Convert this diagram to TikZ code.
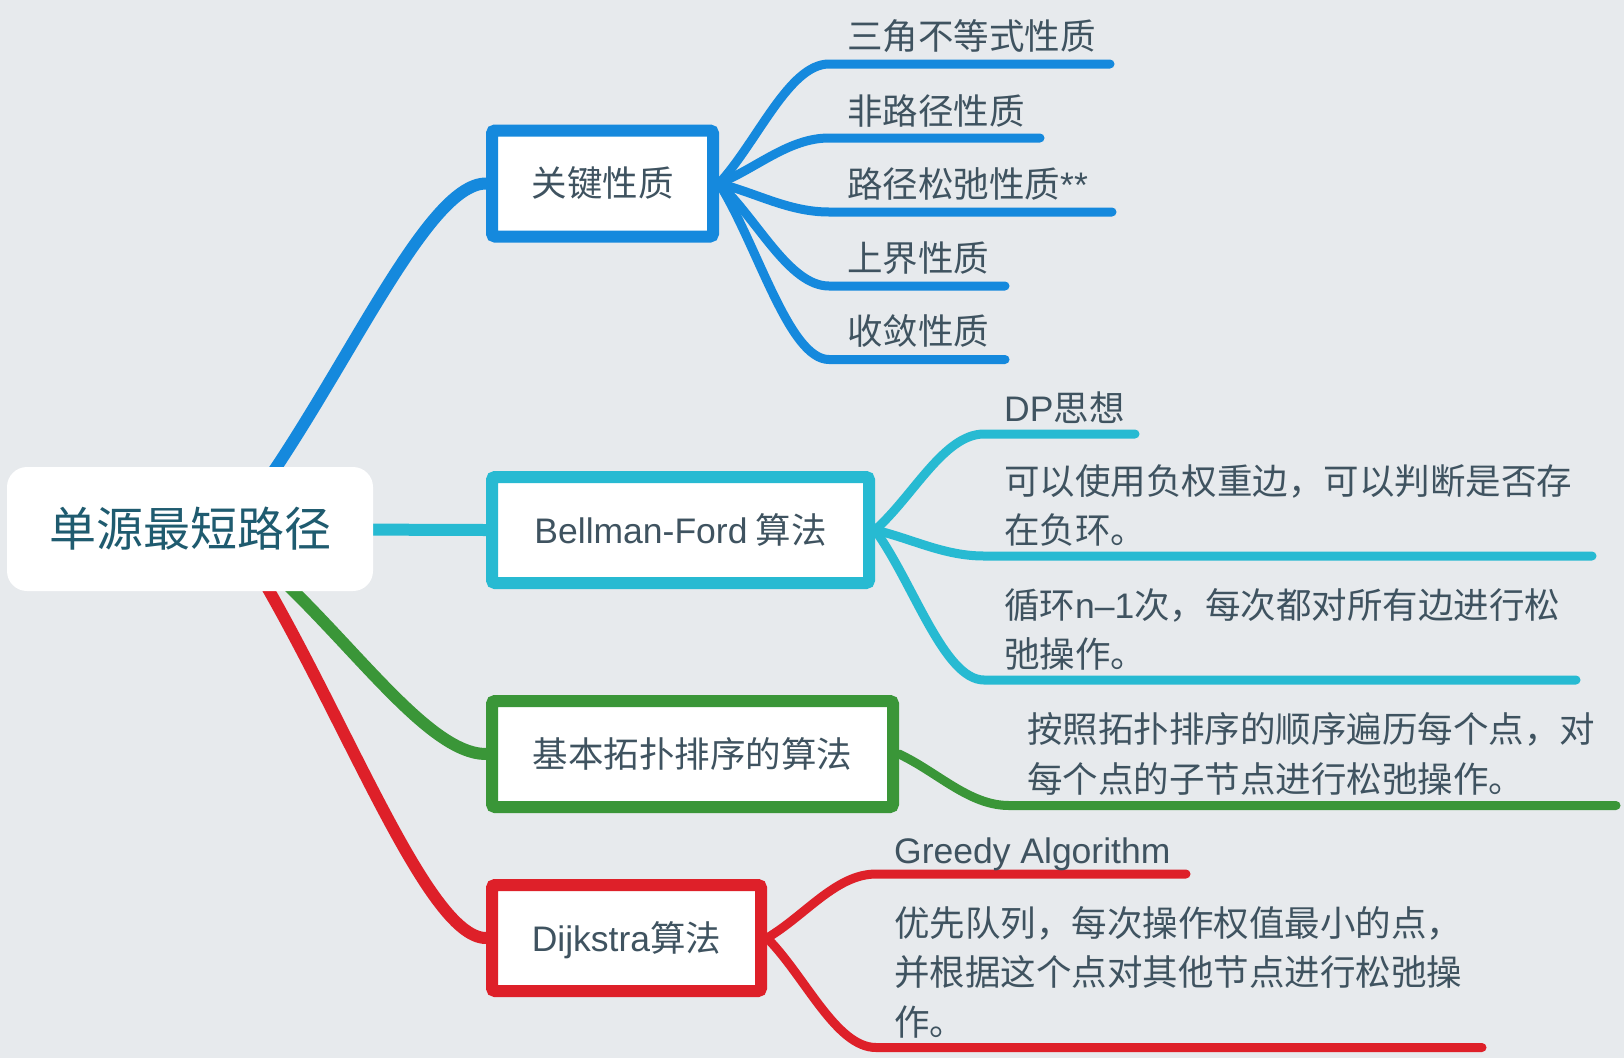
\documentclass[tikz,border=0pt]{standalone}
\usepackage{fontspec}
\setmainfont{Noto Sans CJK SC}
\newfontfamily\lat{Liberation Sans}
\usetikzlibrary{calc}
\definecolor{bgc}{HTML}{E7EAED}
\definecolor{cblue}{HTML}{1589DD}
\definecolor{ccyan}{HTML}{27BAD2}
\definecolor{cgreen}{HTML}{3A9638}
\definecolor{cred}{HTML}{DE2029}
\definecolor{ctext}{HTML}{3F5360}
\definecolor{croot}{HTML}{1F5B6F}
\pgfdeclarelayer{bglayer}
\pgfdeclarelayer{connlayer}
\pgfsetlayers{bglayer,connlayer,main}
\newcommand\subcon[3]{\draw[subbr, draw=#1] (#2) .. controls ($(#2)!0.35!(#3s)$) and ($(#3s)+(-40,0)$) .. (#3s) -- (#3e);}
\newcommand\maincon[3]{\draw[mainbr, draw=#1] (#2) .. controls ($(#2)!0.4!(#3.west)$) and ($(#3.west)+(-60,0)$) .. (#3.west);}
\begin{document}
\begin{tikzpicture}[x=1pt,y=-1pt,
  every node/.style={inner sep=0pt, text=ctext},
  txt/.style={font=\fontsize{35.5}{50}\selectfont, anchor=base west},
  topicbox/.style={draw, line width=12pt, fill=white, rounded corners=3pt,
    font=\fontsize{35.5}{50}\selectfont, text height=31.2pt, text depth=4.3pt,
    minimum height=106pt},
  mainbr/.style={line width=12pt, line cap=round},
  subbr/.style={line width=9pt, line cap=round, line join=round},
]
\useasboundingbox (0,0) rectangle (1624,1058);
\begin{pgfonlayer}{bglayer}
\fill[bgc] (0,0) rectangle (1624,1058);
\end{pgfonlayer}

% root and topics
\node[fill=white, rounded corners=20pt, minimum width=366pt, minimum height=124pt,
  text=croot, font=\fontsize{47}{56}\selectfont, text height=41.4pt, text depth=5.6pt]
  (root) at (190,529) {单源最短路径};
\node[topicbox, draw=cblue, minimum width=221pt] (key) at (602.5,183.5) {关键性质};
\node[topicbox, draw=ccyan, minimum width=377pt] (bf) at (680.5,530) {{\lat Bellman-Ford} 算法};
\node[topicbox, draw=cgreen, minimum width=401pt] (topo) at (692.5,754) {基本拓扑排序的算法};
\node[topicbox, draw=cred, minimum width=269pt] (dij) at (626.5,938) {{\lat Dijkstra}算法};

% branch start points hidden under root
\coordinate (rb) at ($(root.center)+(60,-24)$);
\coordinate (rg) at ($(root.center)+(65,26)$);
\coordinate (rr) at ($(root.center)+(55,21)$);

% subtopic texts
\node[txt] (k1) at (847,49.5) {三角不等式性质};
\node[txt] (k2) at (847,124.5) {非路径性质};
\node[txt] (k3) at (847,197.5) {路径松弛性质{\lat **}};
\node[txt] (k4) at (847,271) {上界性质};
\node[txt] (k5) at (847,344.5) {收敛性质};
\node[txt] (b1) at (1004,421) {{\lat DP}思想};
\node[txt] (b2a) at (1004,494.5) {可以使用负权重边，可以判断是否存};
\node[txt] (b2b) at (1004,543.5) {在负环。};
\node[txt] (b3a) at (1004,618) {循环{\lat n–1}次，每次都对所有边进行松};
\node[txt] (b3b) at (1004,667.5) {弛操作。};
\node[txt] (t1a) at (1027,742) {按照拓扑排序的顺序遍历每个点，对};
\node[txt] (t1b) at (1027,792.5) {每个点的子节点进行松弛操作。};
\node[txt] (d1) at (894,863) {{\lat Greedy Algorithm}};
\node[txt] (d2a) at (894,936.5) {优先队列，每次操作权值最小的点，};
\node[txt] (d2b) at (894,985.5) {并根据这个点对其他节点进行松弛操};
\node[txt] (d2c) at (894,1035.5) {作。};

% underline coordinates
\coordinate (k1s) at (829,64);     \coordinate (k1e) at (1110,64);
\coordinate (k2s) at (829,138);    \coordinate (k2e) at (1040,138);
\coordinate (k3s) at (829,212);    \coordinate (k3e) at (1112,212);
\coordinate (k4s) at (829,286);    \coordinate (k4e) at (1005,286);
\coordinate (k5s) at (829,359.5);  \coordinate (k5e) at (1005,359.5);
\coordinate (b1s) at (984,434);    \coordinate (b1e) at (1135,434);
\coordinate (b2s) at (984,556);    \coordinate (b2e) at (1592,556);
\coordinate (b3s) at (984,680);    \coordinate (b3e) at (1576,680);
\coordinate (t1s) at (1009,805.5); \coordinate (t1e) at (1616,805.5);
\coordinate (d1s) at (876,874);    \coordinate (d1e) at (1186,874);
\coordinate (d2s) at (876,1047.5); \coordinate (d2e) at (1482,1047.5);

\begin{pgfonlayer}{connlayer}
\maincon{cblue}{rb}{key}
\draw[mainbr, draw=ccyan] (root.center) -- (bf.west);
\maincon{cgreen}{rg}{topo}
\maincon{cred}{rr}{dij}
\subcon{cblue}{key.east}{k1}
\subcon{cblue}{key.east}{k2}
\subcon{cblue}{key.east}{k3}
\subcon{cblue}{key.east}{k4}
\subcon{cblue}{key.east}{k5}
\subcon{ccyan}{bf.east}{b1}
\subcon{ccyan}{bf.east}{b2}
\subcon{ccyan}{bf.east}{b3}
\subcon{cgreen}{topo.east}{t1}
\subcon{cred}{dij.east}{d1}
\subcon{cred}{dij.east}{d2}
\end{pgfonlayer}
\end{tikzpicture}
\end{document}
